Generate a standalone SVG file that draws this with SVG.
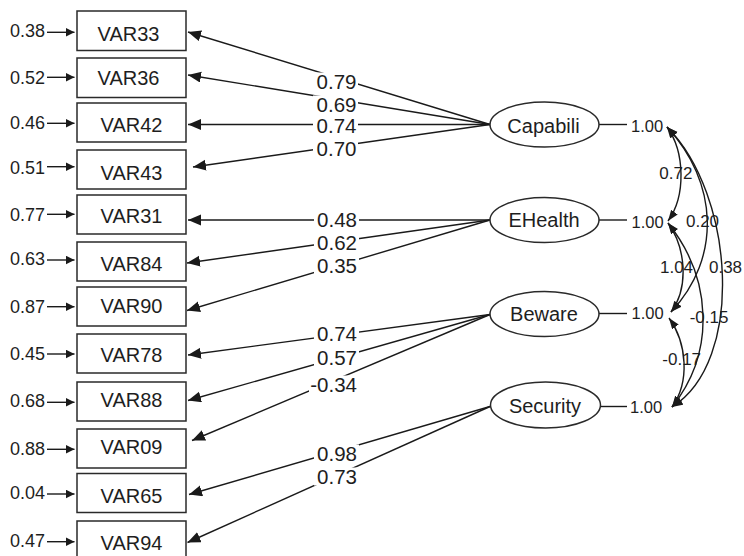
<svg xmlns="http://www.w3.org/2000/svg" width="744" height="556" viewBox="0 0 744 556">
  <defs>
    <style>
      .box { fill: #fff; stroke: #2a2a2a; stroke-width: 1.5; }
      .lat { fill: #fff; stroke: #2a2a2a; stroke-width: 1.5; }
      .ln { fill: none; stroke: #1a1a1a; stroke-width: 1.4; }
      .gap { fill: #fff; stroke: none; }
      text { font-family: "Liberation Sans", Arial, Helvetica, sans-serif; fill: #1e1e1e; }
      .vn { font-size: 20px; text-anchor: middle; }
      .el { font-size: 18px; text-anchor: end; }
      .ld { font-size: 20.5px; text-anchor: end; }
      .vr { font-size: 16.5px; }
      .cv { font-size: 17px; text-anchor: middle; }
    </style>
    <marker id="ah-load" markerUnits="userSpaceOnUse" markerWidth="14" markerHeight="12" refX="13" refY="5.5" orient="auto">
      <path d="M0,0 L13,5.5 L0,11 z" fill="#1a1a1a"/>
    </marker>
    <marker id="ah-err" markerUnits="userSpaceOnUse" markerWidth="10" markerHeight="10" refX="9" refY="4.5" orient="auto">
      <path d="M0,0 L9,4.5 L0,9 z" fill="#1a1a1a"/>
    </marker>
    <marker id="ah-cov" markerUnits="userSpaceOnUse" markerWidth="12" markerHeight="9" refX="11" refY="4" orient="auto-start-reverse">
      <path d="M0,0 L11,4 L0,8 z" fill="#1a1a1a"/>
    </marker>
  </defs>

  <!-- connectors: error arrows, loadings, variance ticks, covariances -->
  <g id="connectors">
    <!-- error terms into indicators -->
    <g marker-end="url(#ah-err)">
      <line class="ln" x1="47" y1="32.3" x2="74.5" y2="32.3"/>
      <line class="ln" x1="47" y1="77.3" x2="74.5" y2="77.3"/>
      <line class="ln" x1="47" y1="123.3" x2="74.5" y2="123.3"/>
      <line class="ln" x1="47" y1="166.7" x2="74.5" y2="166.7"/>
      <line class="ln" x1="47" y1="214.3" x2="74.5" y2="214.3"/>
      <line class="ln" x1="47" y1="260" x2="74.5" y2="260"/>
      <line class="ln" x1="47" y1="306.7" x2="74.5" y2="306.7"/>
      <line class="ln" x1="47" y1="354" x2="74.5" y2="354"/>
      <line class="ln" x1="47" y1="402.3" x2="74.5" y2="402.3"/>
      <line class="ln" x1="47" y1="449.3" x2="74.5" y2="449.3"/>
      <line class="ln" x1="47" y1="494" x2="74.5" y2="494"/>
      <line class="ln" x1="47" y1="541.7" x2="74.5" y2="541.7"/>
    </g>

    <!-- factor loadings -->
    <g marker-end="url(#ah-load)">
      <line class="ln" x1="490" y1="124.5" x2="188" y2="32"/>
      <line class="ln" x1="490" y1="124.5" x2="188" y2="75"/>
      <line class="ln" x1="490" y1="124.5" x2="188" y2="124.5"/>
      <line class="ln" x1="490" y1="124.5" x2="193" y2="167"/>
      <line class="ln" x1="490" y1="220" x2="188" y2="220"/>
      <line class="ln" x1="490" y1="220" x2="187" y2="263"/>
      <line class="ln" x1="490" y1="220" x2="187" y2="310.5"/>
      <line class="ln" x1="490" y1="314.5" x2="188" y2="355"/>
      <line class="ln" x1="490" y1="314.5" x2="188" y2="400.5"/>
      <line class="ln" x1="490" y1="314.5" x2="192" y2="440.5"/>
      <line class="ln" x1="490" y1="406.5" x2="189" y2="494.5"/>
      <line class="ln" x1="490" y1="406.5" x2="187.5" y2="542.5"/>
    </g>
    <!-- loading labels break the line behind them -->
    <rect class="gap" x="313" y="72.5" width="45" height="18"/>
    <rect class="gap" x="313" y="95.5" width="45" height="18"/>
    <rect class="gap" x="313" y="116.5" width="45" height="18"/>
    <rect class="gap" x="313" y="140" width="45" height="18"/>
    <rect class="gap" x="314" y="211" width="45" height="18"/>
    <rect class="gap" x="314" y="234" width="45" height="18"/>
    <rect class="gap" x="314" y="256.5" width="45" height="18"/>
    <rect class="gap" x="314" y="325" width="45" height="18"/>
    <rect class="gap" x="314" y="348.5" width="45" height="18"/>
    <rect class="gap" x="309" y="375.5" width="50" height="18"/>
    <rect class="gap" x="314" y="444.5" width="45" height="18"/>
    <rect class="gap" x="314" y="467.5" width="45" height="18"/>
    <text class="ld" x="356.5" y="88.5">0.79</text>
    <text class="ld" x="356.5" y="111.5">0.69</text>
    <text class="ld" x="356.5" y="132.5">0.74</text>
    <text class="ld" x="356.5" y="156">0.70</text>
    <text class="ld" x="357" y="227">0.48</text>
    <text class="ld" x="357" y="250">0.62</text>
    <text class="ld" x="357" y="272.5">0.35</text>
    <text class="ld" x="357" y="341">0.74</text>
    <text class="ld" x="357" y="364.5">0.57</text>
    <text class="ld" x="357" y="391.5">-0.34</text>
    <text class="ld" x="357" y="460.5">0.98</text>
    <text class="ld" x="357" y="483.5">0.73</text>

    <!-- variance ticks -->
    <line class="ln" x1="599" y1="124.5" x2="627" y2="124.5"/>
    <line class="ln" x1="599" y1="220" x2="627" y2="220"/>
    <line class="ln" x1="599" y1="313.5" x2="627" y2="313.5"/>
    <line class="ln" x1="600" y1="406.5" x2="627" y2="406.5"/>

    <!-- factor covariances -->
    <g marker-start="url(#ah-cov)" marker-end="url(#ah-cov)">
      <path class="ln" d="M667,127 C685,152 686,196 668,221"/>
      <path class="ln" d="M667,127 C718,182 722,258 671,312"/>
      <path class="ln" d="M667,127 C735,195 745,362 672,407"/>
      <path class="ln" d="M668,223 C686,248 689,288 671,312"/>
      <path class="ln" d="M668,223 C712,278 716,352 672,407"/>
      <path class="ln" d="M669,318 C687,343 690,382 672,407"/>
    </g>
    <text class="cv" x="675.8" y="179">0.72</text>
    <text class="cv" x="702.5" y="226.7">0.20</text>
    <text class="cv" x="676.5" y="273.3">1.04</text>
    <text class="cv" x="725.5" y="273.3">0.38</text>
    <text class="cv" x="709" y="323.3">-0.15</text>
    <text class="cv" x="681.7" y="365">-0.17</text>
  </g>

  <!-- observed indicators -->
  <g id="VAR33"><rect class="box" x="77" y="11" width="109" height="39.5"/><text class="vn" x="128.5" y="40.7">VAR33</text><text class="el" x="45" y="37.3">0.38</text></g>
  <g id="VAR36"><rect class="box" x="77" y="58" width="109" height="39.5"/><text class="vn" x="128.5" y="85.3">VAR36</text><text class="el" x="45" y="84">0.52</text></g>
  <g id="VAR42"><rect class="box" x="77" y="103" width="109" height="39"/><text class="vn" x="131.5" y="131.7">VAR42</text><text class="el" x="45" y="129">0.46</text></g>
  <g id="VAR43"><rect class="box" x="77" y="150" width="109" height="39"/><text class="vn" x="131.5" y="180">VAR43</text><text class="el" x="45" y="174">0.51</text></g>
  <g id="VAR31"><rect class="box" x="77" y="195" width="109" height="39"/><text class="vn" x="131.5" y="223.3">VAR31</text><text class="el" x="45" y="220.7">0.77</text></g>
  <g id="VAR84"><rect class="box" x="77" y="242" width="109" height="39"/><text class="vn" x="131.5" y="271">VAR84</text><text class="el" x="45" y="265">0.63</text></g>
  <g id="VAR90"><rect class="box" x="77" y="287" width="109" height="39"/><text class="vn" x="131.5" y="312.7">VAR90</text><text class="el" x="45" y="312.7">0.87</text></g>
  <g id="VAR78"><rect class="box" x="77" y="334" width="109" height="39"/><text class="vn" x="131.5" y="361.7">VAR78</text><text class="el" x="45" y="360">0.45</text></g>
  <g id="VAR88"><rect class="box" x="77" y="382" width="109" height="39"/><text class="vn" x="131.5" y="406.7">VAR88</text><text class="el" x="45" y="407.3">0.68</text></g>
  <g id="VAR09"><rect class="box" x="77" y="429" width="109" height="39"/><text class="vn" x="131.5" y="454">VAR09</text><text class="el" x="45" y="455">0.88</text></g>
  <g id="VAR65"><rect class="box" x="77" y="473.5" width="109" height="39"/><text class="vn" x="131.5" y="502.7">VAR65</text><text class="el" x="45" y="499.3">0.04</text></g>
  <g id="VAR94"><rect class="box" x="77" y="521" width="109" height="39"/><text class="vn" x="131.5" y="550">VAR94</text><text class="el" x="45" y="546.7">0.47</text></g>

  <!-- latent factors -->
  <g id="Capabili"><ellipse class="lat" cx="544.5" cy="124.5" rx="54.5" ry="22.5"/><text class="vn" x="543.5" y="132.5">Capabili</text><text class="vr" x="631" y="131.7">1.00</text></g>
  <g id="EHealth"><ellipse class="lat" cx="544.5" cy="220" rx="54.5" ry="22.5"/><text class="vn" x="544" y="226.7">EHealth</text><text class="vr" x="631.5" y="227.7">1.00</text></g>
  <g id="Beware"><ellipse class="lat" cx="544.5" cy="314" rx="54.5" ry="22.5"/><text class="vn" x="544" y="320.7">Beware</text><text class="vr" x="631.5" y="319">1.00</text></g>
  <g id="Security"><ellipse class="lat" cx="545.5" cy="405" rx="55" ry="23"/><text class="vn" x="545" y="413">Security</text><text class="vr" x="630" y="413.3">1.00</text></g>
</svg>
